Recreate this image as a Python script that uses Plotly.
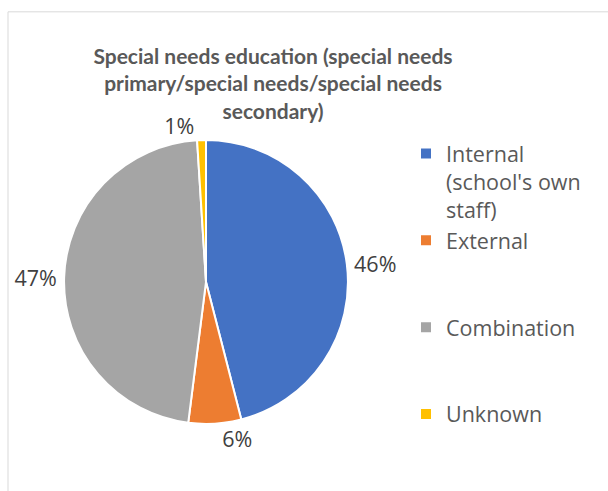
import plotly.graph_objects as go

pad = "<br>&nbsp;<br>&nbsp;"
labels = ["Internal<br>(school's own<br>staff)", "External" + pad, "Combination" + pad, "Unknown" + pad]
values = [46, 6, 47, 1]
colors = ["#4472C4", "#ED7D31", "#A5A5A5", "#FFC000"]
title_text = "<b>Special needs education (special needs<br>primary/special needs/special needs<br>secondary)</b>"

W, H = 608, 491

fig = go.Figure(go.Pie(
    labels=labels,
    values=values,
    sort=False,
    direction="clockwise",
    rotation=0,
    marker=dict(colors=colors, line=dict(color="white", width=2)),
    texttemplate="%{percent:.0%}",
    textposition="outside",
    textfont=dict(family="Open Sans", size=21.5, color="#404040"),
    domain=dict(x=[62 / W, 350 / W], y=[1 - 430 / H, 1 - 142 / H]),
    hoverinfo="percent",
))

fig.update_layout(
    width=W, height=H,
    margin=dict(l=0, r=0, t=0, b=0),
    paper_bgcolor="white",
    plot_bgcolor="white",
    font=dict(family="Open Sans", color="#595959"),
    title=dict(text=title_text, x=273 / W, xanchor="center", xref="paper",
               y=1 - 65 / H, yanchor="top", yref="paper",
               font=dict(family="Lato", size=21, color="#595959")),
    legend=dict(x=406 / W, xanchor="left", y=1 - 135 / H, yanchor="top",
                font=dict(family="Open Sans", size=21.5, color="#595959"),
                valign="top", itemwidth=30, tracegroupgap=0),
    shapes=[dict(type="rect", xref="paper", yref="paper",
                 x0=8 / W, x1=1.05, y0=-0.05, y1=1 - 12 / H,
                 line=dict(color="#D9D9D9", width=1), fillcolor="rgba(0,0,0,0)")],
)

fig.write_html("out.html")
